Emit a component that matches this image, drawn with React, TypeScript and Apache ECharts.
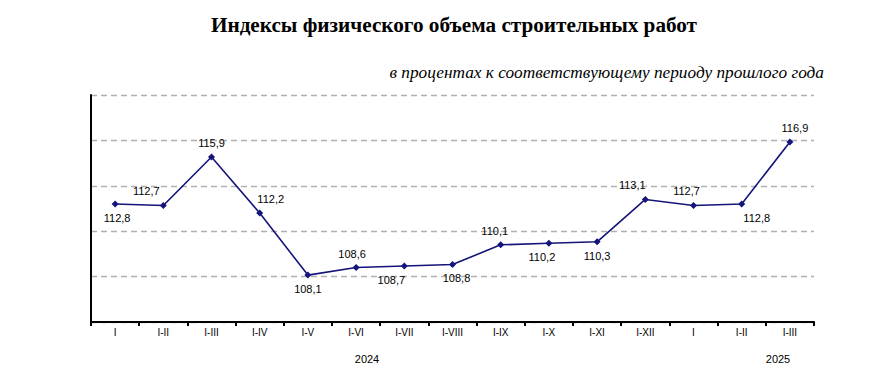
import React, { useEffect, useRef } from "react";
import * as echarts from "echarts";

const categories = ["I", "I-II", "I-III", "I-IV", "I-V", "I-VI", "I-VII", "I-VIII", "I-IX", "I-X", "I-XI", "I-XII", "I", "I-II", "I-III"];
const values = [112.8, 112.7, 115.9, 112.2, 108.1, 108.6, 108.7, 108.8, 110.1, 110.2, 110.3, 113.1, 112.7, 112.8, 116.9];
const labelPositions = ["bottom", "top", "top", "top", "bottom", "top", "bottom", "bottom", "top", "bottom", "bottom", "top", "top", "bottom", "top"];
const labelShiftX = [2, -17, 0, 11, 0, -4, -13, 4, -6, -7, 0, -13, -7, 15, 5];
const yearLabels = ["2024", "2025"];
const titleText = "Индексы физического объема строительных работ";
const subtitleText = "в процентах к соответствующему периоду прошлого года";

export default function App() {
  const ref = useRef<HTMLDivElement>(null);
  useEffect(() => {
    if (!ref.current) return;
    const chart = echarts.init(ref.current, null, { renderer: "svg" });
    const labelFont = { fontFamily: "'Liberation Sans', Arial, sans-serif", fontSize: 11, color: "#000" };
    chart.setOption({
      animation: false,
      backgroundColor: "#fff",
      title: [
        {
          text: titleText,
          left: 449,
          textAlign: "center",
          top: 9,
          textStyle: { fontFamily: "'Liberation Serif', 'Times New Roman', serif", fontWeight: "bold", fontSize: 21.2, color: "#000" },
        },
        {
          text: subtitleText,
          right: 64,
          top: 59,
          textStyle: { fontFamily: "'Liberation Serif', 'Times New Roman', serif", fontStyle: "italic", fontWeight: "normal", fontSize: 17.3, color: "#000" },
        },
        {
          text: yearLabels[0],
          left: 362,
          textAlign: "center",
          top: 348,
          textStyle: { ...labelFont, fontWeight: "normal" },
        },
        {
          text: yearLabels[1],
          left: 773,
          textAlign: "center",
          top: 348,
          textStyle: { ...labelFont, fontWeight: "normal" },
        },
      ],
      grid: { left: 91, right: 79, top: 95, bottom: 63, containLabel: false },
      xAxis: {
        type: "category",
        data: categories,
        boundaryGap: true,
        axisLine: { lineStyle: { color: "#000", width: 2 } },
        axisTick: { show: true, length: 4, inside: false, lineStyle: { color: "#000", width: 2 } },
        axisLabel: { ...labelFont, fontSize: 10, margin: 5 },
        splitLine: { show: false },
      },
      yAxis: {
        type: "value",
        min: 105,
        max: 120,
        interval: 3,
        axisLine: { show: true, lineStyle: { color: "#000", width: 2 } },
        axisTick: { show: false },
        axisLabel: { show: false },
        splitLine: { show: true, lineStyle: { color: "#b0b0b0", type: [6, 4], width: 1.3 } },
      },
      series: [
        {
          type: "line",
          data: values.map((v, i) => ({
            value: v,
            label: { position: labelPositions[i], distance: 5, offset: [labelShiftX[i], 0] },
          })),
          symbol: "diamond",
          symbolSize: 7,
          itemStyle: { color: "#14147a" },
          lineStyle: { color: "#14147a", width: 1.6 },
          label: {
            show: true,
            ...labelFont,
            formatter: (p: any) => String(p.value).replace(".", ","),
          },
        },
      ],
    });
    return () => chart.dispose();
  }, []);
  return <div ref={ref} style={{ position: "fixed", left: 0, top: 0, width: 893, height: 385 }} />;
}
